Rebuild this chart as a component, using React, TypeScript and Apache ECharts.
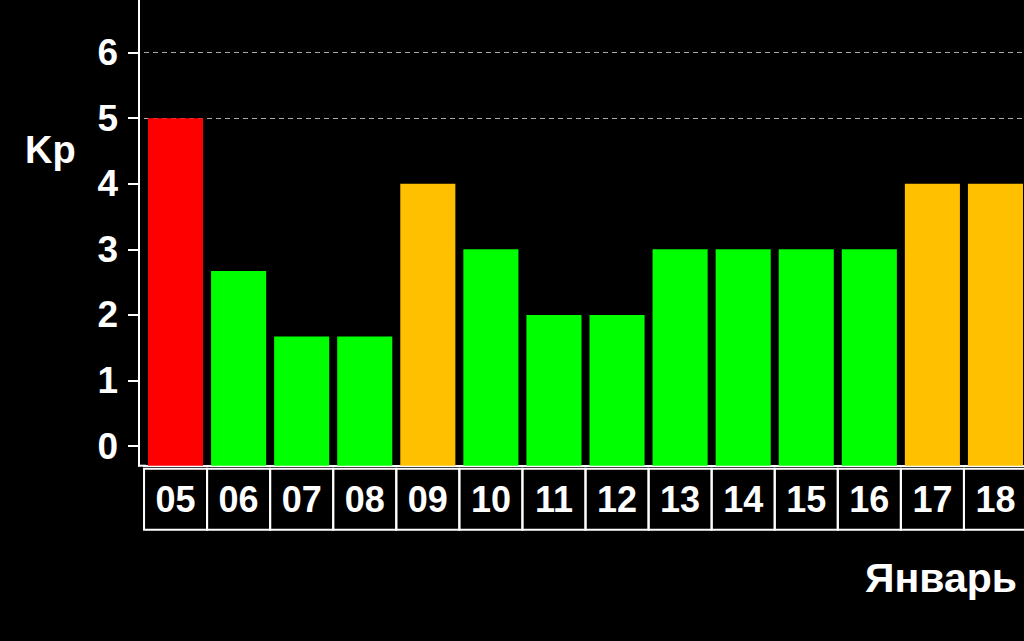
import React, { useEffect, useRef } from "react";
import * as echarts from "echarts";

const DAYS = ["05", "06", "07", "08", "09", "10", "11", "12", "13", "14", "15", "16", "17", "18"];
const KP_VALUES = [5, 2.67, 1.67, 1.67, 4, 3, 2, 2, 3, 3, 3, 3, 4, 4];
const Y_TICKS = [0, 1, 2, 3, 4, 5, 6, 7];
const THRESHOLD_LINES = [5, 6, 7];
const Y_MIN = -0.3;
const Y_MAX = 7;
const X_TITLE = "Январь";
const Y_TITLE = "Kp";

const FONT = "'Liberation Sans', Arial, sans-serif";

function kpColor(v: number): string {
  if (v >= 5) return "#ff0000";
  if (v >= 4) return "#ffc000";
  return "#00ff00";
}

export default function App() {
  const ref = useRef<HTMLDivElement>(null);
  useEffect(() => {
    if (!ref.current) return;
    const chart = echarts.init(ref.current, null, { renderer: "svg" });
    const gridLeft = 144;
    const gridBottom = 175.3;
    chart.setOption({
      animation: false,
      backgroundColor: "#000000",
      title: [
        {
          text: Y_TITLE,
          left: 20,
          top: 126,
          textStyle: { color: "#ffffff", fontSize: 38, fontWeight: "bold", fontFamily: FONT },
        },
        {
          text: X_TITLE,
          right: 2,
          top: 552,
          textStyle: { color: "#ffffff", fontSize: 41, fontWeight: "bold", fontFamily: FONT },
        },
      ],
      grid: {
        left: gridLeft,
        right: -3,
        top: -13,
        bottom: gridBottom,
        containLabel: false,
        outerBoundsMode: "none",
      },
      xAxis: {
        type: "category",
        data: DAYS,
        axisLine: { show: true, onZero: false, lineStyle: { color: "#ffffff", width: 2 } },
        axisTick: { show: false },
        splitLine: { show: false },
        axisLabel: {
          interval: 0,
          margin: 3,
          color: "#ffffff",
          fontSize: 36,
          fontWeight: "bold",
          fontFamily: FONT,
          width: 63,
          height: 61,
          lineHeight: 61,
          align: "center",
          borderColor: "#ffffff",
          borderWidth: 2,
          padding: 0,
        },
      },
      yAxis: {
        type: "value",
        min: Y_MIN,
        max: Y_MAX,
        offset: 5,
        axisLine: { show: true, lineStyle: { color: "#ffffff", width: 2 } },
        axisTick: { show: true, length: 11, lineStyle: { color: "#ffffff", width: 2 }, customValues: Y_TICKS },
        axisLabel: {
          color: "#ffffff",
          fontSize: 37,
          fontWeight: "bold",
          fontFamily: FONT,
          margin: 21,
          customValues: Y_TICKS,
        },
        splitLine: { show: false },
      },
      graphic: [
        {
          type: "rect",
          z: 10,
          shape: { x: 138, y: 641 - gridBottom - 1, width: 8, height: 2 },
          style: { fill: "#ffffff" },
        },
      ],
      series: [
        {
          type: "custom",
          z: 3,
          data: KP_VALUES.map((v, i) => [i, v]),
          encode: { x: 0, y: 1 },
          renderItem: (params: any, api: any) => {
            const idx = api.value(0);
            const v = api.value(1);
            const top = api.coord([idx, v]);
            const base = api.coord([idx, Y_MIN]);
            const w = api.size([1, 0])[0] - 8;
            return {
              type: "rect",
              shape: { x: top[0] - w / 2, y: top[1], width: w, height: base[1] - top[1] },
              style: { fill: kpColor(v) },
            };
          },
          markLine: {
            silent: true,
            z: 1,
            symbol: "none",
            label: { show: false },
            lineStyle: { color: "#aaaaaa", type: [5, 4], width: 1 },
            data: THRESHOLD_LINES.map((y) => ({ yAxis: y })),
          },
        },
      ],
    });
    return () => chart.dispose();
  }, []);
  return (
    <div
      ref={ref}
      style={{ position: "fixed", left: 0, top: 0, width: 1024, height: 641 }}
    />
  );
}
